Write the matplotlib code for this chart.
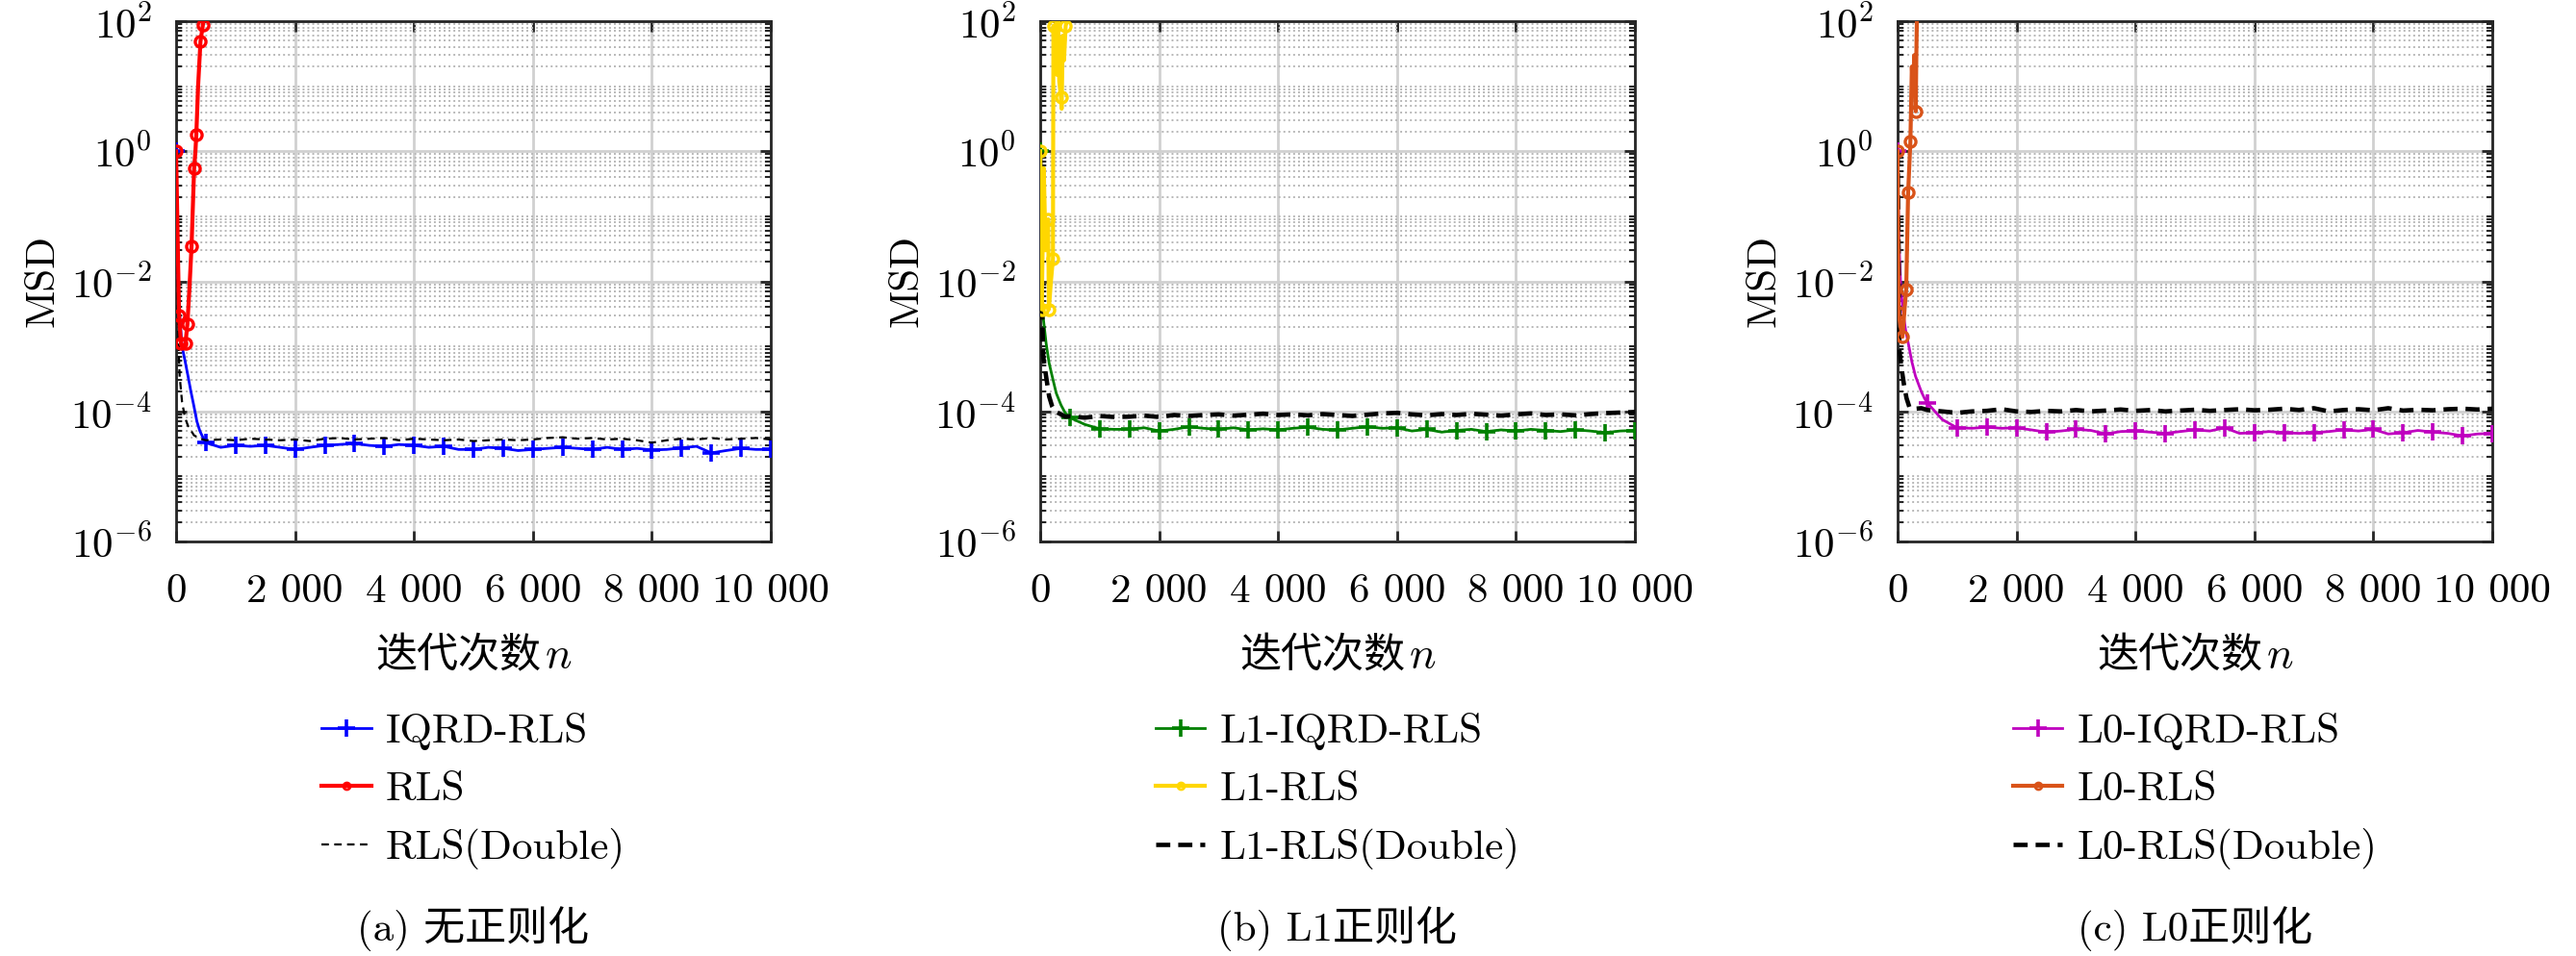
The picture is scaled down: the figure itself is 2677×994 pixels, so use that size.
import numpy as np
import matplotlib
matplotlib.use("Agg")
import matplotlib.pyplot as plt
from matplotlib.ticker import FixedLocator, NullFormatter
from matplotlib.lines import Line2D

plt.rcParams['font.family'] = ['cmr10', 'Noto Sans CJK SC', 'DejaVu Sans']
plt.rcParams['mathtext.fontset'] = 'cm'
plt.rcParams['axes.unicode_minus'] = False

# ---------------- data ----------------
n_late = np.arange(500, 10001, 250)

# panel (a)
a_iqrd_n_early = [0, 25, 50, 100, 150, 200, 250, 300, 350, 400, 450]
a_iqrd_v_early = [1.0, 2e-2, 4e-3, 1e-3, 6e-4, 3.5e-4, 2e-4, 1.2e-4, 7e-5, 5e-5, 4e-5]
a_iqrd_late = [3.3e-5, 2.8e-5, 3.0e-5, 2.9e-5, 3.0e-5, 2.8e-5, 2.6e-5, 2.8e-5, 3.0e-5, 3.1e-5,
               3.2e-5, 3.0e-5, 2.9e-5, 3.1e-5, 3.0e-5, 2.8e-5, 2.9e-5, 2.6e-5, 2.6e-5, 2.8e-5,
               2.7e-5, 2.5e-5, 2.6e-5, 2.7e-5, 2.8e-5, 2.7e-5, 2.6e-5, 2.8e-5, 2.6e-5, 2.7e-5,
               2.55e-5, 2.6e-5, 2.75e-5, 2.9e-5, 2.3e-5, 2.5e-5, 2.7e-5, 2.6e-5, 2.6e-5]
a_dbl_n_early = [0, 15, 30, 45, 60, 100, 150, 200, 300, 400]
a_dbl_v_early = [1.0, 5e-2, 4e-3, 8e-4, 3.5e-4, 1.4e-4, 8e-5, 6e-5, 4.3e-5, 3.8e-5]
a_dbl_late = [3.6e-5, 3.7e-5, 3.6e-5, 3.8e-5, 3.7e-5, 3.6e-5, 3.7e-5, 3.5e-5, 3.8e-5, 3.9e-5,
              3.7e-5, 3.8e-5, 3.9e-5, 3.6e-5, 3.8e-5, 3.7e-5, 3.6e-5, 3.7e-5, 3.5e-5, 3.6e-5,
              3.7e-5, 3.6e-5, 3.7e-5, 3.9e-5, 4.0e-5, 3.8e-5, 3.9e-5, 3.7e-5, 3.8e-5, 3.6e-5,
              3.3e-5, 3.6e-5, 3.8e-5, 3.7e-5, 3.9e-5, 3.7e-5, 3.8e-5, 3.9e-5, 3.7e-5]
a_rls_n = [0, 50, 81, 120, 157, 190, 225, 260, 303, 325, 340, 370, 410, 440, 450, 470]
a_rls_v = [1.0, 3e-3, 1.1e-3, 1.0e-3, 1.1e-3, 2.2e-3, 8e-3, 3.5e-2, 0.54, 1.0, 1.8, 10, 49, 75, 87, 120]
a_rls_marks = [0, 1, 2, 4, 5, 7, 8, 10, 12, 14]

# panel (b)
b_iqrd_n_early = [0, 30, 50, 100, 150, 200, 270, 350, 420]
b_iqrd_v_early = [1.0, 3.7e-3, 2.8e-3, 1.1e-3, 5.5e-4, 3.5e-4, 1.9e-4, 1.25e-4, 9.5e-5]
b_iqrd_late = [8.0e-5, 6.3e-5, 5.4e-5, 5.3e-5, 5.3e-5, 5.6e-5, 5.0e-5, 5.3e-5, 5.8e-5, 5.5e-5,
               5.3e-5, 5.6e-5, 5.2e-5, 5.4e-5, 5.2e-5, 5.5e-5, 5.7e-5, 5.3e-5, 5.2e-5, 5.5e-5,
               5.8e-5, 5.5e-5, 5.6e-5, 5.0e-5, 5.3e-5, 4.8e-5, 5.1e-5, 5.3e-5, 4.9e-5, 5.2e-5,
               5.0e-5, 5.3e-5, 5.1e-5, 4.9e-5, 5.2e-5, 5.0e-5, 4.7e-5, 5.0e-5, 5.1e-5]
b_dbl_n_early = [0, 15, 30, 50, 100, 150, 200, 250, 350, 420]
b_dbl_v_early = [1.0, 5e-2, 5e-3, 7e-4, 3.4e-4, 1.7e-4, 1.2e-4, 1.0e-4, 9e-5, 8.3e-5]
b_dbl_late = [8.4e-5, 8.0e-5, 8.5e-5, 8.2e-5, 8.3e-5, 8.6e-5, 8.2e-5, 8.8e-5, 8.5e-5, 8.8e-5,
              9.0e-5, 8.6e-5, 8.9e-5, 9.2e-5, 8.8e-5, 9.0e-5, 8.7e-5, 9.1e-5, 8.8e-5, 8.5e-5,
              8.9e-5, 9.3e-5, 9.5e-5, 9.0e-5, 8.7e-5, 9.1e-5, 8.8e-5, 9.2e-5, 8.9e-5, 8.6e-5,
              9.0e-5, 9.3e-5, 8.8e-5, 9.0e-5, 8.7e-5, 9.1e-5, 9.4e-5, 9.6e-5, 9.8e-5]
b_rls_n = [0, 26, 60, 90, 134, 145, 180, 214, 222, 240, 260, 280, 300, 320, 348, 360, 380, 400, 428, 450, 470]
b_rls_v = [1.0, 3.7e-3, 0.55, 3e-2, 9e-2, 3.7e-3, 1e-2, 2.2e-2, 85, 20, 90, 15, 100, 12, 6.8, 4.5, 60, 25, 85, 100, 120]
b_rls_marks = [0, 1, 4, 5, 7, 8, 14, 18]

# panel (c)
c_iqrd_n_early = [0, 20, 54, 100, 134, 200, 240, 300, 400, 450]
c_iqrd_v_early = [1.0, 5e-2, 7.6e-3, 3e-3, 1.8e-3, 9e-4, 5.8e-4, 3.5e-4, 2e-4, 1.6e-4]
c_iqrd_late = [1.35e-4, 7.5e-5, 5.6e-5, 5.5e-5, 5.7e-5, 5.5e-5, 5.6e-5, 5.2e-5, 4.8e-5, 5.0e-5,
               5.3e-5, 5.1e-5, 4.5e-5, 4.9e-5, 5.0e-5, 4.8e-5, 4.6e-5, 4.9e-5, 5.2e-5, 5.0e-5,
               5.6e-5, 4.6e-5, 4.7e-5, 4.9e-5, 4.7e-5, 4.6e-5, 4.7e-5, 4.9e-5, 5.2e-5, 5.0e-5,
               5.3e-5, 4.5e-5, 4.7e-5, 5.1e-5, 4.8e-5, 4.6e-5, 4.2e-5, 4.5e-5, 4.6e-5]
c_dbl_n_early = [0, 15, 30, 60, 107, 150, 200, 300, 400]
c_dbl_v_early = [1.0, 5e-2, 9e-4, 5e-4, 2.6e-4, 1.6e-4, 1.15e-4, 1.1e-4, 1.12e-4]
c_dbl_late = [1.05e-4, 1.0e-4, 9.5e-5, 1.0e-4, 1.02e-4, 1.08e-4, 1.0e-4, 9.8e-5, 1.02e-4, 1.0e-4,
              1.05e-4, 1.0e-4, 1.03e-4, 1.07e-4, 1.02e-4, 1.05e-4, 1.0e-4, 1.03e-4, 1.06e-4, 1.02e-4,
              1.05e-4, 1.08e-4, 1.04e-4, 1.06e-4, 1.1e-4, 1.05e-4, 1.12e-4, 1.0e-4, 1.05e-4, 1.08e-4,
              1.04e-4, 1.12e-4, 1.03e-4, 1.06e-4, 1.04e-4, 1.08e-4, 1.1e-4, 1.07e-4, 1.1e-4]
c_rls_n = [0, 16, 50, 81, 120, 145, 177, 215, 240, 260, 280, 305, 315, 325]
c_rls_v = [1.0, 3.3e-3, 2e-3, 1.4e-3, 4e-3, 7.6e-3, 0.23, 1.4, 20, 8, 30, 4.1, 30, 120]
c_rls_marks = [0, 1, 3, 5, 6, 7, 11]

labels_a = ['IQRD-RLS', 'RLS', 'RLS(Double)']
labels_b = ['L1-IQRD-RLS', 'L1-RLS', 'L1-RLS(Double)']
labels_c = ['L0-IQRD-RLS', 'L0-RLS', 'L0-RLS(Double)']
captions = ['(a) 无正则化', '(b) L1正则化', '(c) L0正则化']
xlabel_cn = '迭代次数'
xlabel_var = 'n'
ylabel = 'MSD'
xtick_vals = [0, 2000, 4000, 6000, 8000, 10000]
xtick_labels = ['0', '2 000', '4 000', '6 000', '8 000', '10 000']
ytick_exps = [-6, -4, -2, 0, 2]

colors_a = ['#0000FF', '#FF0000', '#000000']
colors_b = ['#008000', '#FFD700', '#000000']
colors_c = ['#BF00BF', '#D95319', '#000000']

# ---------------- figure ----------------
W, H = 2677, 994
fig = plt.figure(figsize=(W / 100, H / 100), dpi=100)

lefts = [183, 1081, 1972]
ax_w = 618
top_px, bot_px = 22, 563
FS = 31

panels = [
    (a_iqrd_n_early, a_iqrd_v_early, a_iqrd_late, a_dbl_n_early, a_dbl_v_early, a_dbl_late,
     a_rls_n, a_rls_v, a_rls_marks, labels_a, colors_a, False),
    (b_iqrd_n_early, b_iqrd_v_early, b_iqrd_late, b_dbl_n_early, b_dbl_v_early, b_dbl_late,
     b_rls_n, b_rls_v, b_rls_marks, labels_b, colors_b, True),
    (c_iqrd_n_early, c_iqrd_v_early, c_iqrd_late, c_dbl_n_early, c_dbl_v_early, c_dbl_late,
     c_rls_n, c_rls_v, c_rls_marks, labels_c, colors_c, True),
]

minor_ticks = [m * 10.0 ** e for e in range(-6, 2) for m in range(1, 10)
               if not (m == 1 and e % 2 == 0)]

xlabel_pairs = []
for i, (ien, iev, ilate, den, dev, dlate, rn, rv, rmarks, labs, cols, thick) in enumerate(panels):
    l = lefts[i]
    ax = fig.add_axes([l / W, (H - bot_px) / H, ax_w / W, (bot_px - top_px) / H])
    iq_n = list(ien) + list(n_late)
    iq_v = list(iev) + list(ilate)
    iq_marks = [k for k, nn in enumerate(iq_n) if nn % 500 == 0]
    db_n = list(den) + list(n_late)
    db_v = list(dev) + list(dlate)

    if thick:
        dstyle = dict(color=cols[2], lw=3.3, ls=(0, (3.2, 1.8)))
    else:
        dstyle = dict(color=cols[2], lw=1.6, ls=(0, (3.5, 2.5)))
    ax.plot(db_n, db_v, zorder=4, **dstyle)
    ax.plot(iq_n, iq_v, color=cols[0], lw=2.0, marker='+', ms=13, mew=2.6,
            markevery=iq_marks, zorder=3)
    ax.plot(rn, rv, color=cols[1], lw=3.0, marker='o', ms=8, mew=2.4, mfc='none',
            markevery=rmarks, zorder=5)

    ax.set_yscale('log')
    ax.set_xlim(0, 10000)
    ax.set_ylim(1e-6, 1e2)
    ax.yaxis.set_major_locator(FixedLocator([10.0 ** e for e in ytick_exps]))
    ax.set_yticklabels(['$10^{%d}$' % e for e in ytick_exps])
    ax.yaxis.set_minor_locator(FixedLocator(minor_ticks))
    ax.yaxis.set_minor_formatter(NullFormatter())
    ax.set_xticks(xtick_vals)
    ax.set_xticklabels(xtick_labels)

    ax.grid(True, which='major', color='#d0d0d0', lw=2.0, ls='-', zorder=0)
    ax.grid(True, which='minor', axis='y', color='#b8b8b8', lw=1.4, ls=(0, (1, 1.6)), zorder=0)
    ax.set_axisbelow(True)

    ax.tick_params(which='both', direction='in', top=True, right=True, colors='#262626',
                   labelcolor='black', labelsize=FS)
    ax.tick_params(which='major', length=8, width=2.0)
    ax.tick_params(which='minor', length=4.5, width=1.5)
    ax.tick_params(axis='y', which='major', pad=18)
    ax.tick_params(axis='x', which='major', pad=24)
    for s in ax.spines.values():
        s.set_color('#262626')
        s.set_linewidth(2.0)

    ax.text(-0.224, 0.5, ylabel, transform=ax.transAxes, rotation=90,
            ha='center', va='center', fontsize=FS)

    cx = (l + ax_w / 2) / W
    t1 = fig.text(cx, (H - 694) / H, xlabel_cn, ha='left', va='baseline', fontsize=FS,
                  family=['Noto Sans CJK SC'])
    t2 = fig.text(cx, (H - 694) / H, xlabel_var, ha='left', va='baseline', fontsize=FS + 2,
                  family=['cmmi10'])
    xlabel_pairs.append((cx, t1, t2))
    fig.text(cx, (H - 966) / H, captions[i], ha='center', va='center', fontsize=FS)

    handles = [
        Line2D([], [], color=cols[0], lw=2.0, marker='+', ms=13, mew=2.6),
        Line2D([], [], color=cols[1], lw=3.0, marker='o', ms=5, mew=2.0, mfc='none'),
        Line2D([], [], **dstyle),
    ]
    fig.legend(handles, labs, loc='upper center', bbox_to_anchor=(cx, (H - 741) / H),
               bbox_transform=fig.transFigure, frameon=False, fontsize=FS,
               handlelength=1.2, handletextpad=0.35, labelspacing=0.5,
               borderpad=0, borderaxespad=0)

# center the two-part x labels
fig.canvas.draw()
r = fig.canvas.get_renderer()
for cx, t1, t2 in xlabel_pairs:
    w1 = t1.get_window_extent(r).width / W
    w2 = t2.get_window_extent(r).width / W
    gap = 4 / W
    start = cx - (w1 + gap + w2) / 2
    t1.set_x(start)
    t2.set_x(start + w1 + gap)

fig.savefig('out.png', dpi=100)
